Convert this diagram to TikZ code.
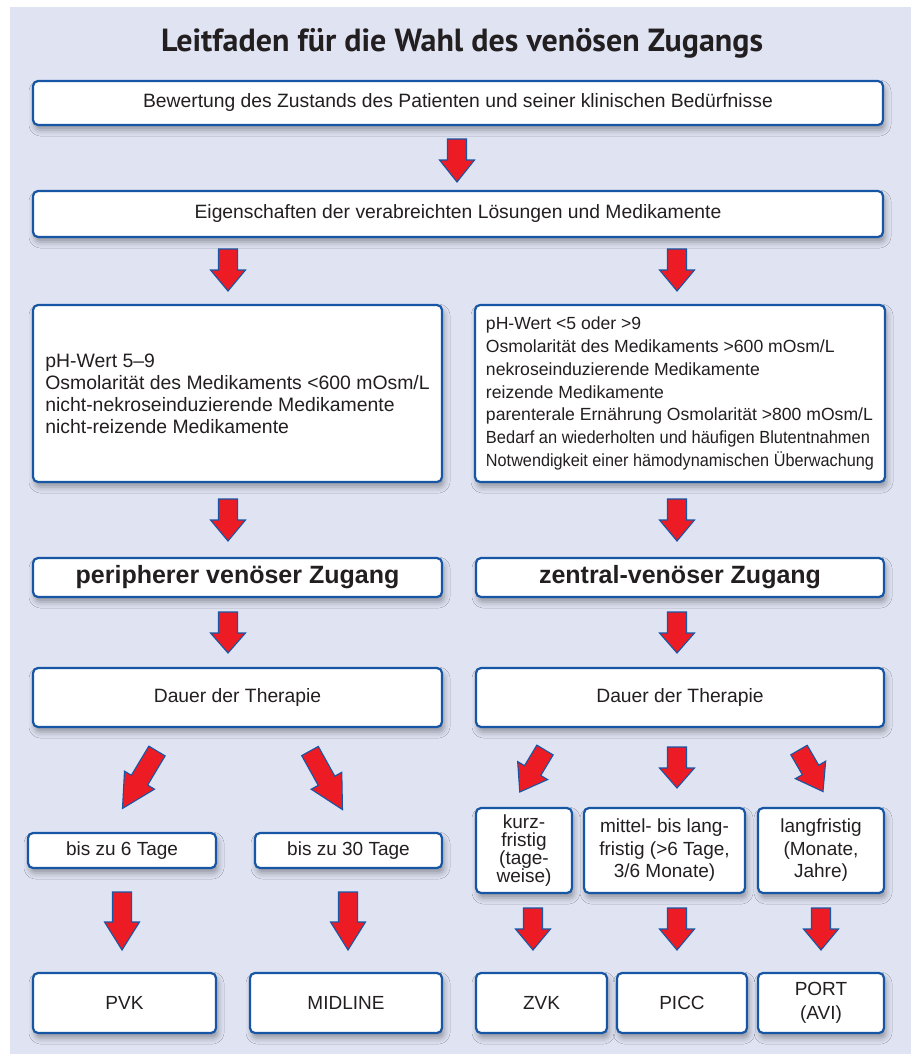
\documentclass[tikz,border=0pt]{standalone}
\usepackage{graphicx}
\usepackage{fontspec}
\setmainfont{Liberation Sans}
\newfontfamily\titlefont{PT Sans}
\usetikzlibrary{shadows.blur}
\definecolor{bgcol}{RGB}{223,227,242}
\definecolor{boxblue}{RGB}{22,86,164}
\definecolor{arrred}{RGB}{237,28,36}
\definecolor{txt}{RGB}{35,31,32}
\newcommand{\fitw}[2]{\resizebox{#1}{\height}{#2}}
\begin{document}
\begin{tikzpicture}[x=1pt,y=-1pt,
  box/.style={draw=boxblue, line width=2.2pt, rounded corners=5pt, fill=white, text=txt, inner sep=0pt,
    blur shadow={shadow xshift=2pt, shadow yshift=-5pt, shadow blur radius=6pt, shadow opacity=35},
    font=\fontsize{19.3}{22}\selectfont},
  boldtxt/.style={font=\bfseries\fontsize{25}{28}\selectfont},
  redarrow/.style={fill=arrred, draw=boxblue, line width=1.1pt, line join=miter},
  pics/barrow/.style 2 args={code={\draw[redarrow] (-9.5,0) -- (9.5,0) -- (9.5,#1-#2) -- (17.5,#1-#2) -- (0,#1) -- (-17.5,#1-#2) -- (-9.5,#1-#2) -- cycle;}}
]
\useasboundingbox (0,0) rectangle (911,1054);
\fill[bgcol] (10,7) rectangle (911,1054);

\node[text=txt, font=\titlefont\bfseries\fontsize{32}{36}\selectfont] (title) at (462,43) {Leitfaden für die Wahl des venösen Zugangs};

\node[box, minimum width=850pt, minimum height=44pt] (b1) at (458,103) {Bewertung des Zustands des Patienten und seiner klinischen Bedürfnisse};
\node[box, minimum width=850pt, minimum height=46pt] (b2) at (458,214) {Eigenschaften der verabreichten Lösungen und Medikamente};

\node[box, minimum width=409pt, minimum height=177pt, align=left, font=\fontsize{19.4}{22}\selectfont] (b3l) at (237.5,393.5) {pH-Wert 5–9\\Osmolarität des Medikaments <600 mOsm/L\\nicht-nekroseinduzierende Medikamente\\nicht-reizende Medikamente\hspace{35pt}};
\node[box, minimum width=410pt, minimum height=177pt, align=left, font=\fontsize{17.6}{22.7}\selectfont] (b3r) at (680,393.5) {pH-Wert <5 oder >9\\Osmolarität des Medikaments >600 mOsm/L\\nekroseinduzierende Medikamente\\reizende Medikamente\\parenterale Ernährung Osmolarität >800 mOsm/L\\\fitw{384pt}{Bedarf an wiederholten und häufigen Blutentnahmen}\\\fitw{388pt}{Notwendigkeit einer hämodynamischen Überwachung}};

\node[box, boldtxt, minimum width=409pt, minimum height=39pt] (b4l) at (237.5,577.5) {peripherer venöser Zugang};
\node[box, boldtxt, minimum width=408pt, minimum height=39pt] (b4r) at (680,577.5) {zentral-venöser Zugang};

\node[box, minimum width=409pt, minimum height=59pt] (b5l) at (237.5,697.5) {Dauer der Therapie};
\node[box, minimum width=408pt, minimum height=59pt] (b5r) at (680,697.5) {Dauer der Therapie};

\node[box, minimum width=188pt, minimum height=35pt, font=\fontsize{19}{22}\selectfont] (s1) at (122,850.5) {bis zu 6 Tage};
\node[box, minimum width=187pt, minimum height=35pt, font=\fontsize{19}{22}\selectfont] (s2) at (348.5,850.5) {bis zu 30 Tage};
\node[box, minimum width=96pt, minimum height=85pt, align=center, font=\fontsize{19}{18}\selectfont] (s3) at (524,850.5) {kurz-\\fristig\\(tage-\\weise)};
\node[box, minimum width=161pt, minimum height=85pt, align=center, font=\fontsize{19}{22.5}\selectfont] (s4) at (664.5,850.5) {mittel- bis lang-\\fristig (>6 Tage,\\3/6 Monate)};
\node[box, minimum width=126pt, minimum height=85pt, align=center, font=\fontsize{19}{22.5}\selectfont] (s5) at (821,850.5) {langfristig\\(Monate,\\Jahre)};

\node[box, minimum width=183pt, minimum height=60pt, font=\fontsize{19}{22}\selectfont] (e1) at (124.5,1003) {PVK};
\node[box, minimum width=192pt, minimum height=60pt, font=\fontsize{19}{22}\selectfont] (e2) at (346,1003) {MIDLINE};
\node[box, minimum width=131pt, minimum height=60pt, font=\fontsize{19}{22}\selectfont] (e3) at (541.5,1003) {ZVK};
\node[box, minimum width=130pt, minimum height=60pt, font=\fontsize{19}{22}\selectfont] (e4) at (682,1003) {PICC};
\node[box, minimum width=126pt, minimum height=60pt, align=center, font=\fontsize{19}{24}\selectfont] (e5) at (821,1003) {PORT\\(AVI)};

% arrows
\pic at (457,139) {barrow={43}{22}};
\pic at (228,249) {barrow={42}{21}};
\pic at (677,249) {barrow={42}{21}};
\pic at (228,499) {barrow={42}{21}};
\pic at (677,499) {barrow={42}{21}};
\pic at (228,612) {barrow={41}{20}};
\pic at (677,612) {barrow={41}{20}};
\pic[rotate=-31] at (157,751) {barrow={67}{33}};
\pic[rotate=29] at (310,751) {barrow={67}{33}};
\pic[rotate=-31] at (545,750) {barrow={49}{25}};
\pic at (677,747) {barrow={41}{20}};
\pic[rotate=30] at (799,750) {barrow={48}{25}};
\pic at (122,892) {barrow={58}{28}};
\pic at (348,892) {barrow={58}{28}};
\pic at (533,908) {barrow={42}{21}};
\pic at (677,908) {barrow={42}{21}};
\pic at (821,908) {barrow={42}{21}};
\end{tikzpicture}
\end{document}
